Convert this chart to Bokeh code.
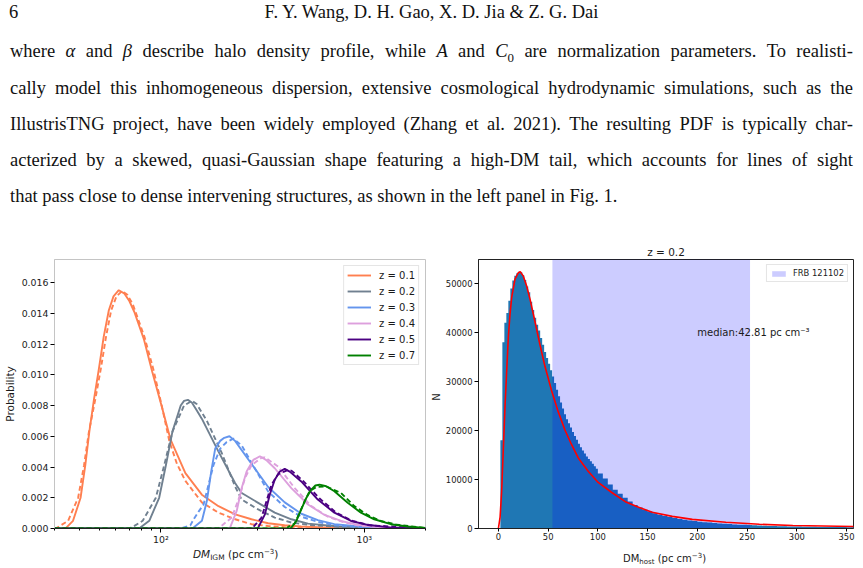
import re
from bokeh.plotting import figure
from bokeh.models import (Range1d, FixedTicker, NumeralTickFormatter, Legend,
                          LegendItem, Label, Div)
from bokeh.layouts import column, row
from bokeh.embed import file_html
from bokeh.resources import INLINE

# ---------------- page text ----------------
PAGE_NO = "6"
RUNNING_HEAD = "F. Y. Wang, D. H. Gao, X. D. Jia &amp; Z. G. Dai"
PARAGRAPH = [
    "where <i>&alpha;</i> and <i>&beta;</i> describe halo density profile, while <i>A</i> and "
    "<i>C</i><sub style='font-size:70%'>0</sub> are normalization parameters. To realisti-",
    "cally model this inhomogeneous dispersion, extensive cosmological hydrodynamic simulations, such as the",
    "IllustrisTNG project, have been widely employed (Zhang et al. 2021). The resulting PDF is typically char-",
    "acterized by a skewed, quasi-Gaussian shape featuring a high-DM tail, which accounts for lines of sight",
    "that pass close to dense intervening structures, as shown in the left panel in Fig. 1.",
]

# ---------------- left panel: DM_IGM probability curves ----------------
Z_LABELS = ["z = 0.1", "z = 0.2", "z = 0.3", "z = 0.4", "z = 0.5", "z = 0.7"]
Z_COLORS = ["coral", "slategray", "cornflowerblue", "plum", "indigo", "green"]

dm_01 = [30, 32, 34.3, 37.0, 40.3, 42.5, 44.5, 46.9, 49.6, 52.4, 55.5, 58.5, 62.1, 66.0, 70.0, 74.0,
         82.6, 90.7, 100.7, 111.5, 132, 159, 192, 232, 279, 337, 406, 490, 713, 1040, 2000]
p_01 = [0, 0, 0.00006, 0.0005, 0.0020, 0.0041, 0.0063, 0.0084, 0.0104, 0.0125, 0.0142, 0.0151, 0.0155,
        0.0153, 0.0148, 0.0141, 0.0123, 0.0102, 0.0080, 0.0058, 0.0036, 0.0022, 0.00145, 0.00092, 0.0006,
        0.00034, 0.00021, 0.00013, 0.00003, 0.00001, 0]
dm_01d = [30, 30.7, 35.0, 39.2, 41.9, 44.3, 47.6, 50.7, 53.8, 57.0, 60.5, 64.5, 68.5, 72.7, 82.9, 91.7,
          101, 110, 120, 132, 159, 192, 232, 279, 337, 406, 490, 713, 2000]
p_01d = [0, 0.00003, 0.0005, 0.0020, 0.0041, 0.0063, 0.0084, 0.0104, 0.0125, 0.0142, 0.0151, 0.01545,
         0.0152, 0.0146, 0.0125, 0.0104, 0.0080, 0.0057, 0.0042, 0.0031, 0.0017, 0.00103, 0.0006, 0.00028,
         0.00016, 0.00008, 0.00003, 0, 0]

dm_02 = [30, 75, 79.3, 87.7, 98.1, 105.8, 114, 125.2, 130, 135.8, 142, 150, 159.2, 192, 231.6, 249.7, 301,
         363, 438, 529, 769, 1252, 2000]
p_02 = [0, 0, 0.00006, 0.0005, 0.0020, 0.0041, 0.0063, 0.0080, 0.0083, 0.00837, 0.0082, 0.0077, 0.00713,
        0.0050, 0.00296, 0.00231, 0.00167, 0.00103, 0.0006, 0.00032, 0.00011, 0.00002, 0]
dm_02d = [30, 68, 71.9, 81.4, 94.5, 103.8, 114, 130, 142.3, 150, 168.4, 199.4, 231.6, 249.7, 301, 363,
          438, 529, 769, 2000]
p_02d = [0, 0, 0.00006, 0.0005, 0.0020, 0.0041, 0.0063, 0.0080, 0.0083, 0.0081, 0.0070, 0.0049, 0.00274,
         0.00188, 0.00124, 0.00071, 0.00039, 0.00024, 0.00009, 0]

dm_03 = [30, 140, 144.9, 159.2, 168.4, 176.8, 185, 195.7, 205, 217.3, 231.6, 279.3, 336.9, 406.5, 490.4,
         591, 713, 1038, 1510, 2000]
p_03 = [0, 0, 0.00006, 0.0005, 0.0018, 0.0037, 0.0052, 0.0057, 0.0059, 0.0060, 0.0057, 0.0042, 0.0027,
        0.0017, 0.00096, 0.00054, 0.00028, 0.00009, 0.00002, 0]
dm_03d = [30, 125, 139.6, 144.9, 153.3, 162.2, 171.5, 181.5, 195.7, 210.9, 227.3, 249.7, 290, 336.9,
          406.5, 490, 591, 713, 1038, 2000]
p_03d = [0, 0, 0.0002, 0.0006, 0.0011, 0.00156, 0.00285, 0.00413, 0.0052, 0.00563, 0.00585, 0.0054,
         0.0039, 0.0024, 0.0014, 0.00077, 0.00043, 0.00021, 0.00006, 0]

dm_04 = [30, 215, 218.9, 236, 249.7, 264, 284.7, 306.8, 330, 363, 438, 529, 638, 769, 928, 1119, 1350, 2000]
p_04 = [0, 0, 0.00006, 0.00114, 0.00263, 0.00371, 0.00446, 0.0047, 0.00445, 0.00392, 0.00263, 0.00156,
        0.00088, 0.00049, 0.00024, 0.00011, 0.00004, 0]
dm_04d = [30, 190, 195.7, 223, 242.3, 259.2, 279.3, 312.6, 324.7, 377, 455, 549, 662, 799, 963, 2000]
p_04d = [0, 0, 0.0001, 0.00071, 0.00199, 0.00328, 0.00413, 0.0046, 0.00463, 0.00403, 0.00263, 0.00146,
         0.00077, 0.00039, 0.00017, 0]

dm_05 = [30, 295, 301, 324.7, 343.3, 363, 384.4, 406.5, 430, 490, 591, 713, 861, 1038, 1350, 2000]
p_05 = [0, 0, 0.00006, 0.00092, 0.00221, 0.00317, 0.00371, 0.00388, 0.0037, 0.00306, 0.00188, 0.00103,
        0.00049, 0.00024, 0.00006, 0]
dm_05d = [30, 280, 284.7, 312.6, 330.7, 349.9, 377, 422, 440, 500, 603, 727, 877, 1058, 2000]
p_05d = [0, 0, 0.0001, 0.00071, 0.00178, 0.00285, 0.00353, 0.00381, 0.00375, 0.0031, 0.00195, 0.00103,
         0.00049, 0.00021, 0]

dm_07 = [30, 435, 438, 463.6, 490, 518.8, 548.8, 575, 602.7, 650, 713, 829, 963, 1119, 1350, 1628, 2000]
p_07 = [0, 0, 0.00006, 0.00049, 0.00124, 0.00199, 0.00253, 0.0028, 0.00285, 0.00275, 0.00242, 0.00167,
        0.00103, 0.0006, 0.00028, 0.00013, 0.00004]
dm_07d = [30, 420, 422, 454.9, 481.2, 509.2, 538.7, 580.4, 649.6, 769, 893, 1038, 1206, 1455, 2000]
p_07d = [0, 0, 0.0001, 0.00032, 0.00103, 0.00178, 0.00242, 0.0027, 0.00274, 0.00231, 0.00146, 0.00088,
         0.00049, 0.00024, 0.00003]

SOLID = [(dm_01, p_01), (dm_02, p_02), (dm_03, p_03), (dm_04, p_04), (dm_05, p_05), (dm_07, p_07)]
DASHED = [(dm_01d, p_01d), (dm_02d, p_02d), (dm_03d, p_03d), (dm_04d, p_04d), (dm_05d, p_05d),
          (dm_07d, p_07d)]

P_TICKS = [0, 0.002, 0.004, 0.006, 0.008, 0.010, 0.012, 0.014, 0.016]
DM_MAJOR = [100, 1000]
DM_MINOR = [30, 40, 50, 60, 70, 80, 90, 200, 300, 400, 500, 600, 700, 800, 900, 2000]
DM_MAJOR_LABELS = {100: "10\u00b2", 1000: "10\u00b3"}

# ---------------- right panel: DM_host histogram at z = 0.2 ----------------
HIST_EDGES = ([0, 2, 4, 6, 8, 10, 12, 14, 16, 18, 20, 22, 24, 26, 28, 30, 32, 34, 36, 38, 40, 42, 44,
               46, 48, 50, 52, 54, 56, 58, 60, 62, 64, 66, 68, 70, 72, 74, 76, 78, 80, 82, 84, 86, 88,
               90, 92, 94, 96, 98]
              + [100, 105, 110, 115, 120, 125, 130, 135, 140, 145, 150, 155, 160, 165, 170, 175, 180,
                 185, 190, 195, 200, 205, 210, 215, 220, 225, 230, 235, 240, 245, 250, 255, 260, 265,
                 270, 275, 280, 285, 290, 295, 300, 305, 310, 315, 320, 325, 330, 335, 340, 345, 350,
                 355, 360])
HIST_COUNTS = [0, 18000, 38000, 42000, 44000, 46500, 49000, 50600, 51600, 52100, 52400, 52300, 51700,
               50700, 49400, 48200, 46300, 44600, 43000, 41600, 40400, 38900, 37500, 36000, 34800, 33600,
               32300, 31000, 29700, 28300, 27000, 25700, 24500, 23300, 22300, 21500, 20600, 19700, 18900,
               18100, 17300, 16600, 15900, 15300, 14700, 14200, 13700, 13200, 12700, 12200,
               11200, 10200, 9000, 7900, 7100, 6300, 5500, 4800, 4300, 3850, 3450, 3100, 2800, 2550,
               2330, 2130, 1950, 1780, 1640, 1510, 1400, 1300, 1200, 1110, 1030, 960, 900, 840, 790, 740,
               690, 650, 600, 560, 530, 500, 470, 445, 420, 400, 385, 370, 355, 340, 330, 320, 310, 300,
               292, 285, 278, 272]

fit_dm = [0, 1.7, 3.3, 5.0, 6.7, 8.4, 10.0, 11.7, 13.4, 16.7, 20.1, 22.0, 25.1, 28.4, 31.8, 36.8, 41.8,
          46.8, 53.5, 60.2, 66.9, 73.6, 80.3, 90.3, 100.3, 114, 127.6, 141, 154.6, 174.8, 195, 228.7,
          262.4, 296, 356.7, 360]
fit_n = [0, 2300, 7700, 16400, 25100, 32400, 39100, 43800, 47200, 50900, 52200, 52400, 51500, 49500,
         46800, 42200, 37500, 33100, 28100, 23800, 20100, 17100, 14400, 11700, 9400, 7350, 5480, 4340,
         3330, 2470, 1870, 1265, 863, 602, 402, 400]

FRB_RANGE = (54.3, 253.0)
MEDIAN_DM = 42.81
HOST_TICKS = [0, 50, 100, 150, 200, 250, 300, 350]
N_TICKS = [0, 10000, 20000, 30000, 40000, 50000]
N_MAX = 54900

FONT = "DejaVu Sans"
INK = "#1a1a1a"
PANEL_H = 307

# ---------------- text block ----------------
def justified(line, top, last=False):
    if last:
        return (f"<div style='position:absolute;left:10px;top:{top}px;white-space:nowrap;'>"
                f"{line}</div>")
    # split on spaces that sit between words, not inside tags
    words = re.split(r" (?![^<]*>)", line)
    spans = "".join(f"<span>{w}</span>" for w in words)
    return (f"<div style='position:absolute;left:10px;width:843px;top:{top}px;display:flex;"
            f"justify-content:space-between;white-space:nowrap;'>{spans}</div>")

tops = [42, 78.5, 114.5, 150.5, 186.5]
body = "".join(justified(l, t, i == len(PARAGRAPH) - 1) for i, (l, t) in enumerate(zip(PARAGRAPH, tops)))
html = (
    "<div style=\"position:relative;width:863px;height:240px;font-family:'Liberation Serif',serif;"
    "font-size:18.5px;line-height:18px;color:#111;\">"
    f"<div style='position:absolute;left:9px;top:3px;'>{PAGE_NO}</div>"
    f"<div style='position:absolute;left:0;width:863px;top:3px;text-align:center;'>{RUNNING_HEAD}</div>"
    f"{body}</div>"
)
text_block = Div(text=html, width=863, height=240, margin=0)

# ---------------- left figure ----------------
left = figure(width=430, height=PANEL_H, x_axis_type="log", x_range=Range1d(30, 2000),
              y_range=Range1d(0, 0.0175), output_backend="svg", toolbar_location=None, title=None,
              min_border_left=52, min_border_right=5, min_border_top=18, min_border_bottom=16)
left.grid.visible = False
left.outline_line_color = "#c4c4c4"

items = []
for (xs, ys), (xd, yd), col, lab in zip(SOLID, DASHED, Z_COLORS, Z_LABELS):
    r = left.line(xs, ys, line_color=col, line_width=1.9)
    left.line(xd, yd, line_color=col, line_width=1.9, line_dash="5 3")
    items.append(LegendItem(label=lab, renderers=[r]))

leg = Legend(items=items, location="top_right", margin=6, padding=3, spacing=4,
             glyph_width=24, glyph_height=12, label_height=12, label_standoff=8,
             label_text_font=FONT, label_text_font_size="10px", label_text_color=INK,
             border_line_color="#cccccc", background_fill_alpha=0.85)
left.add_layout(leg)

xa = left.xaxis[0]
xa.ticker = FixedTicker(ticks=DM_MAJOR, minor_ticks=DM_MINOR)
xa.major_label_overrides = DM_MAJOR_LABELS
ya = left.yaxis[0]
ya.ticker = FixedTicker(ticks=P_TICKS)
ya.formatter = NumeralTickFormatter(format="0.000")
ya.minor_tick_line_color = None
ya.axis_label = "Probability"
ya.axis_label_standoff = 3
ya.axis_label_text_font_style = "normal"
ya.axis_line_color = "#c4c4c4"
for ax in (xa, ya):
    ax.major_label_text_font = FONT
    ax.major_label_text_font_size = "9.4px"
    ax.major_label_text_color = INK
    ax.major_tick_in = 0
    ax.major_tick_out = 4
    ax.minor_tick_in = 0
    ax.minor_tick_out = 2
    ax.major_label_standoff = 2
    ax.axis_label_text_font = FONT
    ax.axis_label_text_font_size = "10.5px"
    ax.axis_label_text_color = INK
xa.axis_line_color = "#222222"
xa.major_label_standoff = 1
xa.axis_label_standoff = 0

# ---------------- right figure ----------------
right = figure(width=421, height=PANEL_H, x_range=Range1d(-20, 357), y_range=Range1d(0, N_MAX),
               output_backend="svg", toolbar_location=None, title="z = 0.2",
               min_border_left=36, min_border_right=10, min_border_top=19, min_border_bottom=15)
right.grid.visible = False
right.outline_line_color = "#222222"
right.title.text_font = FONT
right.title.text_font_size = "10.5px"
right.title.text_font_style = "normal"
right.title.align = "center"
right.title.text_color = INK
right.title.standoff = 3

right.varea_step(x=HIST_EDGES, y1=0, y2=HIST_COUNTS + HIST_COUNTS[-1:], step_mode="after",
                 fill_color="#1f77b4")
span = right.quad(left=[FRB_RANGE[0]], right=[FRB_RANGE[1]], bottom=[0], top=[N_MAX],
                  fill_color="blue", fill_alpha=0.2, line_color=None)
right.line(fit_dm, fit_n, line_color="red", line_width=1.6)

leg2 = Legend(items=[LegendItem(label="FRB 121102", renderers=[span])], location="top_right",
              margin=5, padding=3, glyph_width=17, glyph_height=7, label_height=8, label_standoff=6,
              label_text_font=FONT, label_text_font_size="8.4px", label_text_color=INK,
              border_line_color="#cccccc", background_fill_alpha=0.85)
right.add_layout(leg2)

right.add_layout(Label(x=200, y=40000, text=f"median:{MEDIAN_DM} pc cm\u207b\u00b3", text_font=FONT,
                       text_font_size="10px", text_color=INK, text_baseline="alphabetic"))

xb = right.xaxis[0]
xb.ticker = FixedTicker(ticks=HOST_TICKS)
yb = right.yaxis[0]
yb.ticker = FixedTicker(ticks=N_TICKS)
for ax in (xb, yb):
    ax.major_label_text_font = FONT
    ax.major_label_text_font_size = "8.4px"
    ax.major_label_text_color = INK
    ax.major_tick_in = 0
    ax.major_tick_out = 4
    ax.minor_tick_line_color = None
    ax.major_label_standoff = 2
    ax.axis_label_standoff = 0
    ax.axis_line_color = "#222222"
xb.major_tick_out = 3
xb.major_label_standoff = 1

# ---------------- axis titles set as HTML (they carry sub/superscripts) ----------------
dejavu = "font-family:'DejaVu Sans',sans-serif;color:#1a1a1a;white-space:nowrap;position:absolute;"
n_title = Div(
    text=(f"<div style='position:relative;width:12px;height:{PANEL_H}px;'>"
          f"<span style=\"{dejavu}left:7px;top:157px;font-size:10px;line-height:10px;"
          "transform:translate(-50%,-50%) rotate(-90deg);\">N</span></div>"),
    width=12, height=PANEL_H, margin=0)

sub = "font-size:7.5px;vertical-align:-2px;"
sup = "font-size:7px;vertical-align:4px;"
x_titles = Div(
    text=("<div style='position:relative;width:863px;height:21px;'>"
          f"<span style=\"{dejavu}left:193px;top:0px;font-size:10.5px;line-height:10.5px;\">"
          f"<i>DM</i><span style='{sub}'>IGM</span> (pc cm<span style='{sup}'>&minus;3</span>)</span>"
          f"<span style=\"{dejavu}left:623px;top:3.5px;font-size:10px;line-height:10px;\">"
          f"DM<span style='{sub}font-size:7px;'>host</span> (pc cm<span style='{sup}'>&minus;3</span>)"
          "</span></div>"),
    width=863, height=21, margin=0)

page = column(text_block, row(left, n_title, right, spacing=0), x_titles, spacing=0)
open("out.html", "w").write(file_html(page, INLINE))
